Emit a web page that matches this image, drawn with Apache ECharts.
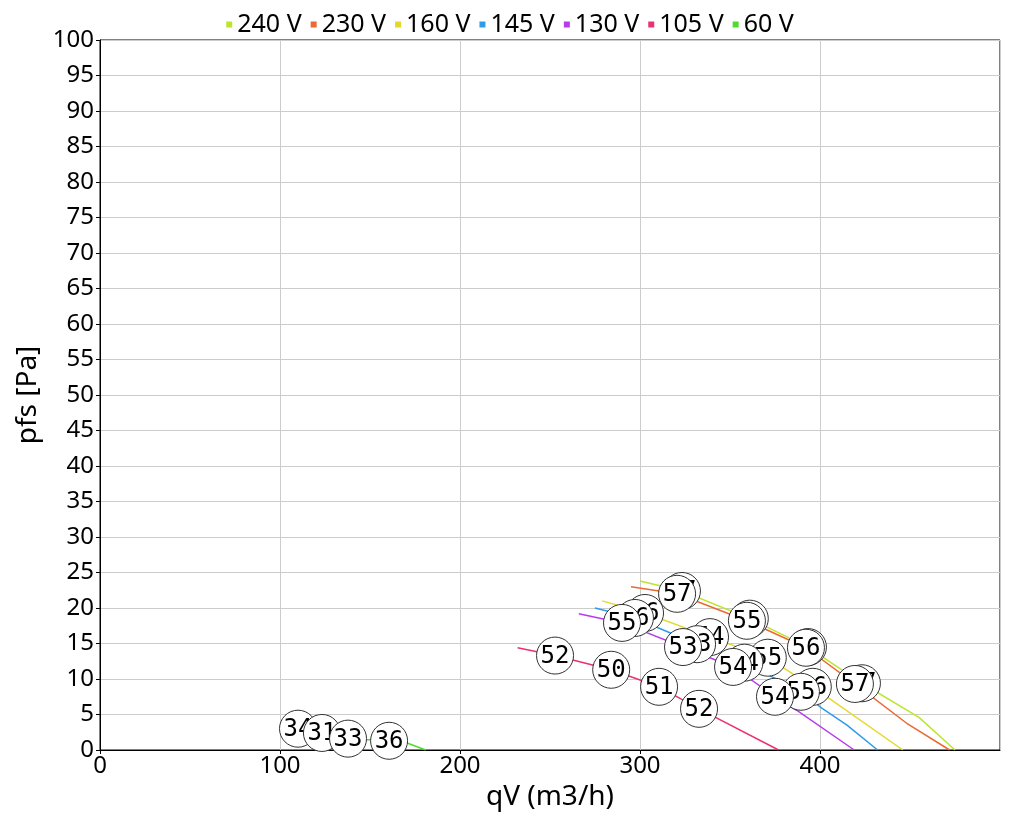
<!DOCTYPE html>
<html>
<head>
<meta charset="utf-8">
<script src="https://cdn.jsdelivr.net/npm/echarts@6/dist/echarts.min.js"></script>
<style>
html,body{margin:0;padding:0;background:#fff;}
#chart{width:1020px;height:820px;}
</style>
</head>
<body>
<div id="chart"></div>
<script>
// ---- data ----
const seriesNames = ['240 V', '230 V', '160 V', '145 V', '130 V', '105 V', '60 V'];
const seriesColors = ['#bde52b', '#ec6a31', '#e5d82b', '#2d9de9', '#b63ced', '#ea3174', '#4edc2c'];

const curve240 = [[300, 23.8], [323.3, 22.4], [361, 18.5], [393.3, 14.5], [423.3, 9.4], [455, 4.6], [475, 0]];
const curve230 = [[295, 23.0], [320.6, 22.0], [359.4, 18.2], [392.2, 14.4], [419.4, 9.3], [448, 3.8], [472, 0]];
const curve160 = [[279, 21.0], [302.8, 19.3], [338.9, 15.9], [371, 13.0], [396, 8.9], [446, 0]];
const curve145 = [[275, 20.0], [297.2, 18.6], [331.7, 14.9], [358, 12.3], [389.4, 8.2], [401, 5.9], [415, 3.5], [432, 0]];
const curve130 = [[266, 19.2], [290, 17.9], [323.9, 14.5], [351.7, 11.7], [375, 7.5], [387, 5.6], [419, 0]];
const curve105 = [[232, 14.4], [252.8, 13.3], [284, 11.3], [310.6, 8.9], [332.8, 5.8], [377, 0]];
const curve60 = [[110, 3.0], [123.3, 2.4], [137.8, 1.6], [160.6, 1.3], [171, 0.95], [181, 0]];

const points240 = [[323.3, 22.4], [361, 18.5], [393.3, 14.5], [423.3, 9.4]];
const labels240 = ['57', '55', '56', '57'];
const points230 = [[320.6, 22.0], [359.4, 18.2], [392.2, 14.4], [419.4, 9.3]];
const labels230 = ['57', '55', '56', '57'];
const points160 = [[302.8, 19.3], [338.9, 15.9], [371, 13.0], [396, 8.9]];
const labels160 = ['56', '54', '55', '56'];
const points145 = [[297.2, 18.6], [331.7, 14.9], [358, 12.3], [389.4, 8.2]];
const labels145 = ['56', '53', '54', '55'];
const points130 = [[290, 17.9], [323.9, 14.5], [351.7, 11.7], [375, 7.5]];
const labels130 = ['55', '53', '54', '54'];
const points105 = [[252.8, 13.3], [284, 11.3], [310.6, 8.9], [332.8, 5.8]];
const labels105 = ['52', '50', '51', '52'];
const points60 = [[110, 3.0], [123.3, 2.4], [137.8, 1.6], [160.6, 1.3]];
const labels60 = ['34', '31', '33', '36'];

const xName = 'qV (m3/h)';
const yName = 'pfs [Pa]';

// ---- build ----
const curves = [curve240, curve230, curve160, curve145, curve130, curve105, curve60];
const points = [points240, points230, points160, points145, points130, points105, points60];
const labels = [labels240, labels230, labels160, labels145, labels130, labels105, labels60];

const FONT = 'Noto Sans';
const MONO = 'DejaVu Sans Mono';
const series = [];
seriesNames.forEach((name, i) => {
  series.push({
    name: name,
    type: 'line',
    data: curves[i],
    showSymbol: false,
    symbol: 'none',
    color: seriesColors[i],
    lineStyle: {width: 1.5, color: seriesColors[i]},
    z: 2,
    animation: false
  });
});
seriesNames.forEach((name, i) => {
  const lab = labels[i];
  series.push({
    name: name,
    type: 'custom',
    data: points[i],
    encode: {x: 0, y: 1},
    z: 5,
    animation: false,
    renderItem: function (params, api) {
      const pt = api.coord([api.value(0), api.value(1)]);
      const base = i * 20 + params.dataIndex * 2;
      return {
        type: 'group',
        children: [
          {
            type: 'circle',
            shape: {cx: pt[0], cy: pt[1], r: 18.5},
            style: {fill: '#ffffff', stroke: '#333333', lineWidth: 1},
            z2: base
          },
          {
            type: 'text',
            style: {
              x: pt[0], y: pt[1] + 1,
              text: lab[params.dataIndex],
              align: 'center', verticalAlign: 'middle',
              font: '24px "' + MONO + '"',
              fill: '#000000'
            },
            z2: base + 1
          }
        ]
      };
    }
  });
});

const chart = echarts.init(document.getElementById('chart'), null, {renderer: 'canvas'});
chart.setOption({
  backgroundColor: '#ffffff',
  animation: false,
  textStyle: {fontFamily: FONT},
  legend: {
    data: seriesNames.map((n, i) => ({name: n, itemStyle: {color: seriesColors[i]}})),
    top: 7,
    left: 'center',
    icon: 'rect',
    itemWidth: 6,
    itemHeight: 6,
    itemGap: 9,
    textStyle: {fontSize: 25, color: '#000', fontFamily: FONT}
  },
  grid: {
    left: 100, right: 20, top: 40, bottom: 70,
    show: true, borderColor: '#000', borderWidth: 1
  },
  xAxis: {
    type: 'value',
    min: 0, max: 500, interval: 100,
    name: xName,
    nameLocation: 'middle',
    nameGap: 30,
    nameTextStyle: {fontSize: 28, color: '#000', fontFamily: FONT},
    axisLine: {show: true, lineStyle: {color: '#000'}},
    axisTick: {show: true, length: 4, lineStyle: {color: '#000'}},
    axisLabel: {fontSize: 24, color: '#000', margin: 4, showMaxLabel: false, fontFamily: FONT},
    splitLine: {show: true, lineStyle: {color: '#cccccc'}}
  },
  yAxis: {
    type: 'value',
    min: 0, max: 100, interval: 5,
    name: yName,
    nameLocation: 'middle',
    nameGap: 46,
    nameTextStyle: {fontSize: 28, color: '#000', fontFamily: FONT},
    axisLine: {show: true, lineStyle: {color: '#000'}},
    axisTick: {show: true, length: 4, lineStyle: {color: '#000'}},
    axisLabel: {fontSize: 24, color: '#000', margin: 6, fontFamily: FONT},
    splitLine: {show: true, lineStyle: {color: '#cccccc'}}
  },
  series: series
});
</script>
</body>
</html>
